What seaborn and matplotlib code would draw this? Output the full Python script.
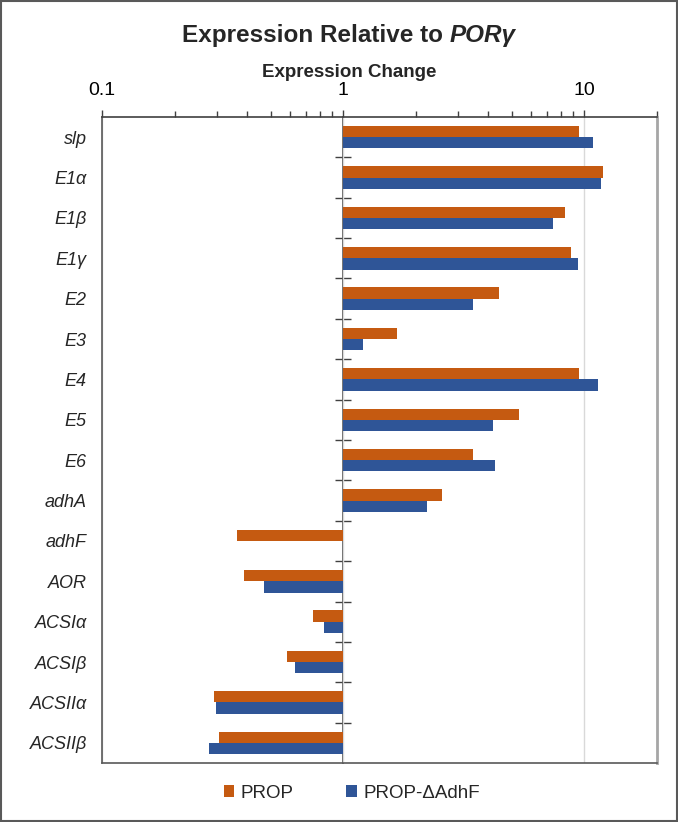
import numpy as np
import pandas as pd
import matplotlib.pyplot as plt
import seaborn as sns
from matplotlib.patches import Rectangle

# fold change vs PORgamma
genes = ['slp', 'E1α', 'E1β', 'E1γ', 'E2', 'E3', 'E4', 'E5', 'E6', 'adhA',
         'adhF', 'AOR', 'ACSIα', 'ACSIβ', 'ACSIIα', 'ACSIIβ']
prop = [9.47, 11.9, 8.34, 8.78, 4.44, 1.67, 9.47, 5.37, 3.44, 2.58,
        0.362, 0.388, 0.748, 0.584, 0.290, 0.305]
prop_dadhf = [10.9, 11.7, 7.39, 9.41, 3.46, 1.21, 11.4, 4.17, 4.25, 2.22,
              np.nan, 0.470, 0.829, 0.630, 0.297, 0.277]
series = ['PROP', 'PROP-ΔAdhF']
colors = ['#C55A11', '#2F5597']
xtick_vals = [0.1, 1, 10]
xmax_val = 20

df = pd.DataFrame({'gene': genes * 2,
                   'strain': [series[0]] * len(genes) + [series[1]] * len(genes),
                   'change': prop + prop_dadhf}).dropna()
# bars grow from 1, so plot on log10 axis
df['logc'] = np.log10(df['change'])

sns.set_style('white')
plt.rcParams['font.family'] = ['Liberation Sans', 'DejaVu Sans']

fig = plt.figure(figsize=(6.78, 8.22), dpi=100)
ax = fig.add_axes([102/678, 1-763/822, 555/678, (763-117)/822])

sns.barplot(data=df, x='logc', y='gene', hue='strain', order=genes, hue_order=series,
            palette=colors, saturation=1, width=0.56, errorbar=None, linewidth=0,
            ax=ax, zorder=2)

ax.set_xlim(-1, np.log10(xmax_val))
ax.set_xticks(np.log10(xtick_vals))
ax.set_xticklabels([f'{v:g}' for v in xtick_vals])
minor = np.concatenate([np.arange(2, 10) * 0.1, np.arange(2, 10) * 1.0, [20]])
ax.set_xticks(np.log10(minor), minor=True)
ax.xaxis.tick_top()
ax.tick_params(axis='x', which='major', direction='out', length=5, width=1,
               color='#404040', labelsize=14, pad=8, labelcolor='black')
ax.tick_params(axis='x', which='minor', direction='out', length=4, width=1,
               color='#404040')
ax.grid(axis='x', which='major', color='#d9d9d9', lw=1, zorder=0)
ax.set_axisbelow(True)
ax.set_xlabel('')
ax.set_ylabel('')

ax.tick_params(axis='y', length=0, pad=11, labelsize=13)
for t in ax.get_yticklabels():
    t.set_fontstyle('italic')

for s in ['left', 'bottom']:
    ax.spines[s].set_color('#595959')
    ax.spines[s].set_linewidth(1.2)
ax.spines['top'].set_color('#404040')
ax.spines['top'].set_linewidth(1.2)
ax.spines['right'].set_color('#a6a6a6')
ax.spines['right'].set_linewidth(2)

# value axis crossing at 1 with boundary ticks
sec = ax.secondary_yaxis(0, transform=ax.transData)
sec.set_yticks(np.arange(len(genes) - 1) + 0.5)
sec.tick_params(axis='y', direction='inout', length=11, width=1, color='#404040',
                labelleft=False, labelright=False)
sec.spines['left'].set_color('#404040')
sec.spines['left'].set_linewidth(1.2)

handles, labels = ax.get_legend_handles_labels()
ax.legend_.remove()
fig.legend(handles, labels, loc='center', bbox_to_anchor=(352/678, 1-793/822),
           ncol=2, frameon=False, fontsize=13.5, handlelength=0.55, handleheight=0.55,
           handletextpad=0.35, columnspacing=2.8)

# title: plain bold then bold italic gene name
fig.canvas.draw()
r = fig.canvas.get_renderer()
ty = 1 - 42/822
t1 = fig.text(0, ty, 'Expression Relative to ', fontsize=17.5, weight='bold', va='baseline')
t2 = fig.text(0, ty, 'PORγ', fontsize=17.5, weight='bold', style='italic', va='baseline')
w1 = t1.get_window_extent(r).width
w2 = t2.get_window_extent(r).width
x0 = 349 - (w1 + w2) / 2
t1.set_x(x0 / 678)
t2.set_x((x0 + w1) / 678)
fig.text(349/678, 1 - 77/822, 'Expression Change', fontsize=13.5, weight='bold',
         ha='center', va='baseline')

fig.patches.append(Rectangle((0.0015, 0.0015), 0.997, 0.997, transform=fig.transFigure,
                             fill=False, edgecolor='#595959', lw=1.5))

plt.savefig('out.png', dpi=100)
